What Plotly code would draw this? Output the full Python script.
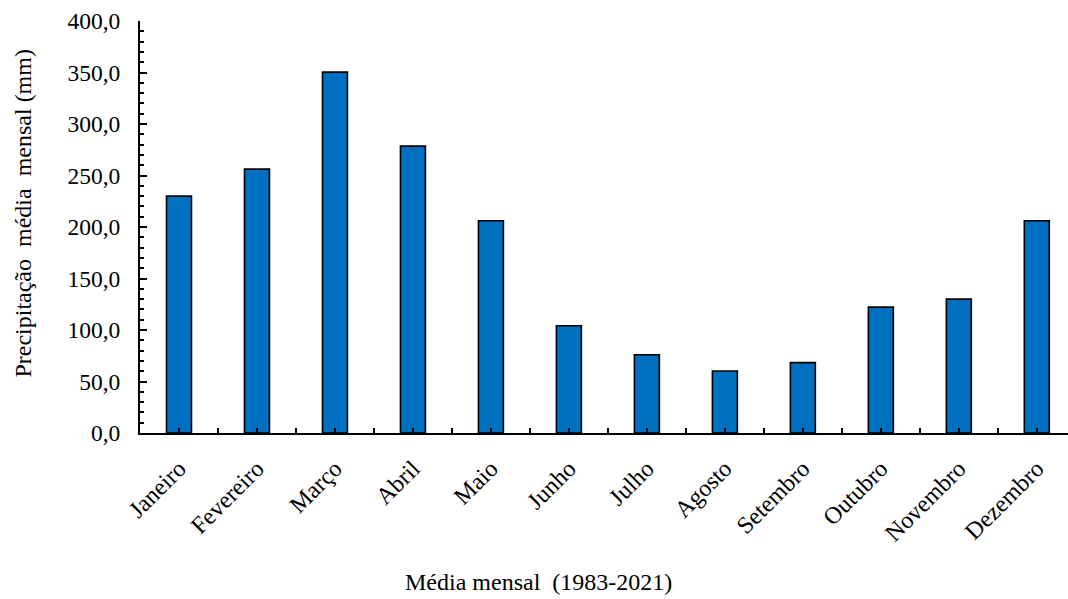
import plotly.graph_objects as go

months = ["Janeiro", "Fevereiro", "Março", "Abril", "Maio", "Junho",
          "Julho", "Agosto", "Setembro", "Outubro", "Novembro", "Dezembro"]
precip = [230.0, 256.2, 350.4, 278.5, 206.1, 104.1, 76.0, 60.2, 68.3, 122.2, 130.0, 206.1]
y_ticks = [0, 50, 100, 150, 200, 250, 300, 350, 400]

FONT = "Liberation Serif, Times New Roman, serif"
x_pos = list(range(len(months)))

fig = go.Figure()
fig.add_trace(go.Bar(
    x=x_pos, y=precip, width=0.32,
    marker=dict(color="#0070C0", line=dict(color="#000000", width=1.6)),
))

L, T, W, H = 139.5, 20.5, 928.5, 413
fig.update_layout(
    width=1068, height=599,
    margin=dict(l=L, r=1068 - L - W, t=T, b=599 - T - H, pad=0),
    paper_bgcolor="white", plot_bgcolor="white",
    separators=", ",
    showlegend=False,
    font=dict(family=FONT, size=24, color="black"),
    xaxis=dict(
        range=[-0.5, 11.4],
        tickmode="array", tickvals=x_pos, ticktext=months,
        tickangle=-45,
        ticks="inside", ticklen=5, tickwidth=1.5, tickcolor="black",
        minor=dict(ticks="inside", ticklen=5, tickwidth=1.5, tickcolor="black",
                   tick0=-0.5, dtick=1),
        showline=True, linecolor="black", linewidth=2,
        showgrid=False, zeroline=False,
        ticklabelstandoff=10,
        tickfont=dict(family=FONT, size=24, color="black"),
    ),
    yaxis=dict(
        range=[0, 400],
        tickmode="array", tickvals=y_ticks,
        tickformat=".1f",
        ticks="inside", ticklen=7, tickwidth=1.5, tickcolor="black",
        minor=dict(ticks="inside", ticklen=4, tickwidth=1.5, tickcolor="black",
                   tick0=0, dtick=10),
        showline=True, linecolor="black", linewidth=2,
        showgrid=False, zeroline=False,
        ticklabelstandoff=13,
        tickfont=dict(family=FONT, size=23.5, color="black"),
    ),
    annotations=[
        dict(text="Precipitação  média  mensal (mm)", textangle=-90,
             xref="paper", yref="paper",
             x=(22 - L) / W, y=(T + H - 213) / H,
             xanchor="center", yanchor="middle", showarrow=False,
             font=dict(family=FONT, size=24, color="black")),
        dict(text="Média mensal  (1983-2021)",
             xref="paper", yref="paper",
             x=(538 - L) / W, y=(T + H - 583) / H,
             xanchor="center", yanchor="middle", showarrow=False,
             font=dict(family=FONT, size=24, color="black")),
    ],
)

fig.write_html("out.html")
